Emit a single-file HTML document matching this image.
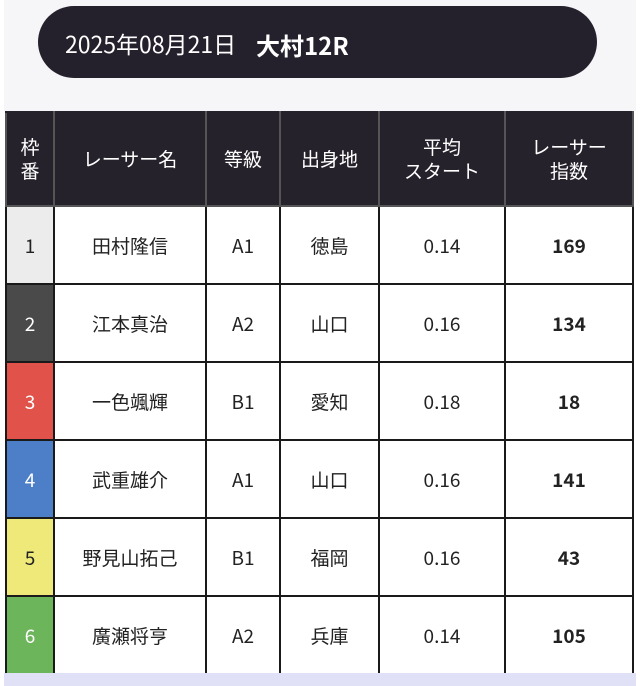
<!DOCTYPE html>
<html><head><meta charset="utf-8"><style>
html,body{margin:0;padding:0;width:640px;height:686px;overflow:hidden;background:#fff;font-family:"Liberation Sans","Noto Sans CJK JP",sans-serif;}
.top{position:absolute;left:4px;top:0;width:632px;height:111px;background:#f6f6f9;}
.pill{position:absolute;left:34px;top:6px;width:559px;height:72px;border-radius:36px;background:#25212c;color:#fff;}
.d{position:absolute;left:27px;top:20px;font-size:23px;font-family:"Noto Sans CJK JP",sans-serif;letter-spacing:0px;}
.t{position:absolute;left:218px;top:21px;font-size:24px;font-weight:bold;font-family:"Noto Sans CJK JP",sans-serif;}
.bot{position:absolute;left:4px;top:673px;width:632px;height:13px;background:#e0e0f6;}
table{position:absolute;left:5px;top:111px;border-collapse:collapse;font-family:"Noto Sans CJK JP",sans-serif;}
td,th{border:2px solid #1a1a1a;text-align:center;padding:0;font-size:19px;color:#222;}
th{background:#26222c;color:#fff;font-weight:normal;height:92px;line-height:24px;border-color:#555;border-top-color:#26222c;}
td{height:76px;background:#fff;}
td.b{font-weight:bold;}
</style></head><body>
<div class="top"><div class="pill"><span class="d">2025年08月21日</span><span class="t">大村12R</span></div></div>
<table>
<tr><th style="width:46px">枠<br>番</th><th style="width:150px">レーサー名</th><th style="width:72px">等級</th><th style="width:97px">出身地</th><th style="width:124px">平均<br>スタート</th><th style="width:126px">レーサー<br>指数</th></tr>
<tr><td style="background:#ececec">1</td><td>田村隆信</td><td>A1</td><td>徳島</td><td>0.14</td><td class="b">169</td></tr>
<tr><td style="background:#4a4a4a;color:#fff">2</td><td>江本真治</td><td>A2</td><td>山口</td><td>0.16</td><td class="b">134</td></tr>
<tr><td style="background:#e0524a;color:#fff">3</td><td>一色颯輝</td><td>B1</td><td>愛知</td><td>0.18</td><td class="b">18</td></tr>
<tr><td style="background:#4d7fc9;color:#fff">4</td><td>武重雄介</td><td>A1</td><td>山口</td><td>0.16</td><td class="b">141</td></tr>
<tr><td style="background:#efe97a">5</td><td>野見山拓己</td><td>B1</td><td>福岡</td><td>0.16</td><td class="b">43</td></tr>
<tr><td style="background:#6cb55a;color:#fff">6</td><td>廣瀬将亨</td><td>A2</td><td>兵庫</td><td>0.14</td><td class="b">105</td></tr>
</table>
<div class="bot"></div>
</body></html>
